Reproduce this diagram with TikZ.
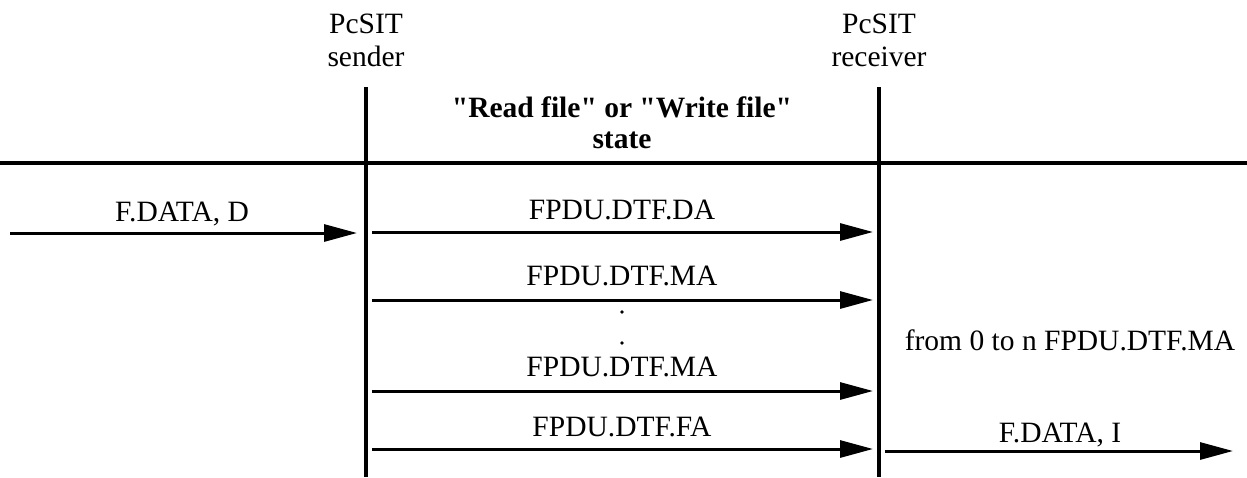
\documentclass[tikz,border=0pt]{standalone}
\usepackage{fontspec}
\setmainfont{Liberation Serif}
\usetikzlibrary{arrows.meta}
\begin{document}
\begin{tikzpicture}[x=1pt,y=-1pt,
  lbl/.style={inner sep=0pt,anchor=base,font=\fontsize{29.5}{33}\selectfont},
  hdr/.style={lbl,font=\fontsize{29.5}{33}\selectfont\bfseries},
  lifeline/.style={line width=4pt},
  divider/.style={line width=3.5pt},
  msg/.style={line width=3pt,-{Triangle[length=33pt,width=17pt]}}
]
\useasboundingbox (0,0) rectangle (1247,477);

% participants
\node[lbl] (sndA) at (366,33) {PcSIT};
\node[lbl] (sndB) at (366,66) {sender};
\node[lbl] (rcvA) at (879,33) {PcSIT};
\node[lbl] (rcvB) at (879,66) {receiver};

% lifelines
\coordinate (sTop) at (366,87);
\coordinate (sBot) at (366,477);
\coordinate (rTop) at (879,87);
\coordinate (rBot) at (879,477);
\draw[lifeline] (sTop) -- (sBot);
\draw[lifeline] (rTop) -- (rBot);

% state heading and divider
\node[hdr] (st1) at (622,117) {\textquotedbl Read file\textquotedbl{} or \textquotedbl Write file\textquotedbl};
\node[hdr] (st2) at (622,148) {state};
\coordinate (dL) at (0,163);
\coordinate (dR) at (1247,163);
\draw[divider] (dL) -- (dR);

% message end points
\coordinate (inL) at (10,233);
\coordinate (inR) at (357,233);
\coordinate (m1L) at (372,232);
\coordinate (m1R) at (873,232);
\coordinate (m2L) at (372,300);
\coordinate (m2R) at (873,300);
\coordinate (m3L) at (372,391);
\coordinate (m3R) at (873,391);
\coordinate (m4L) at (372,449);
\coordinate (m4R) at (873,449);
\coordinate (outL) at (885,451);
\coordinate (outR) at (1233,451);

% messages
\draw[msg] (inL) -- (inR);
\node[lbl] (tin) at (182,221) {F.DATA, D};
\draw[msg] (m1L) -- (m1R);
\node[lbl] (t1) at (622,219) {FPDU.DTF.DA};
\draw[msg] (m2L) -- (m2R);
\node[lbl] (t2) at (622,285) {FPDU.DTF.MA};
\fill (622,312) circle (1.8pt);
\fill (622,343) circle (1.8pt);
\draw[msg] (m3L) -- (m3R);
\node[lbl] (t3) at (622,376) {FPDU.DTF.MA};
\draw[msg] (m4L) -- (m4R);
\node[lbl] (t4) at (622,436) {FPDU.DTF.FA};
\draw[msg] (outL) -- (outR);
\node[lbl] (tout) at (1060,442) {F.DATA, I};

% repetition note
\node[lbl] (note) at (1070,350) {from 0 to n FPDU.DTF.MA};
\end{tikzpicture}
\end{document}
